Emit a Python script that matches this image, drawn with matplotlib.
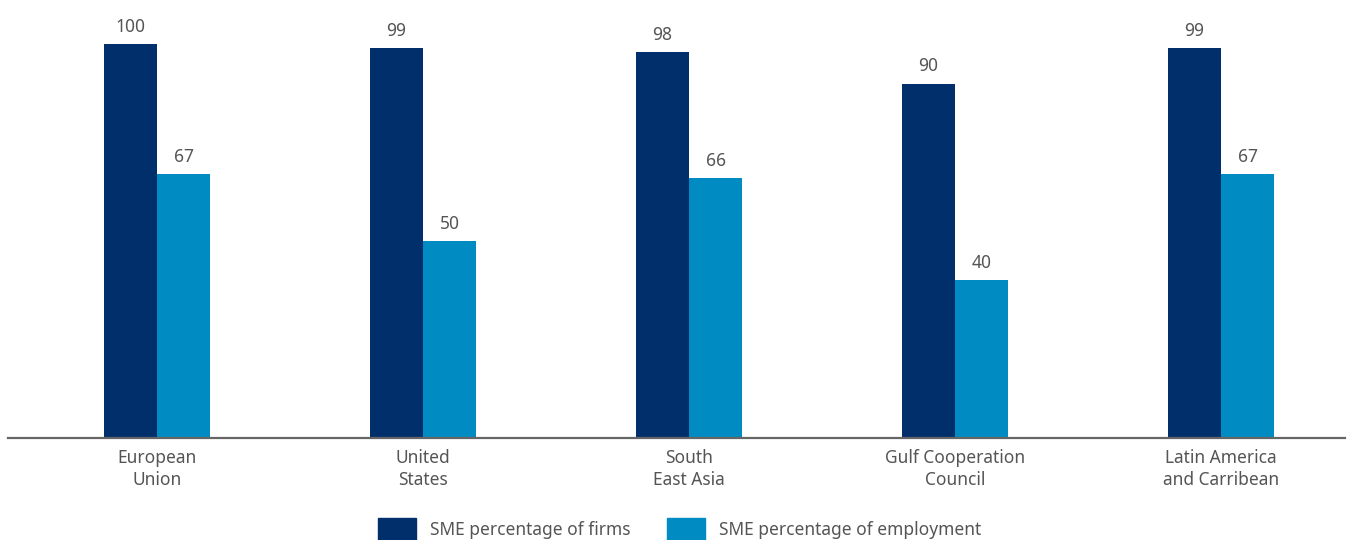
import matplotlib.pyplot as plt
import numpy as np
from matplotlib.patches import Patch

regions = ["European\nUnion", "United\nStates", "South\nEast Asia", "Gulf Cooperation\nCouncil", "Latin America\nand Carribean"]
firms = [100, 99, 98, 90, 99]
employment = [67, 50, 66, 40, 67]
series_labels = ["SME percentage of firms", "SME percentage of employment"]

dark = "#002F6C"
light = "#008CC2"
text_color = "#555555"

plt.rcParams["font.family"] = ["Noto Sans", "DejaVu Sans"]

fig = plt.figure(figsize=(13.49, 5.40), dpi=100)
ax = fig.add_axes([8 / 1349, 102 / 540, 1337 / 1349, 438 / 540])

x = np.arange(len(regions))
width = 0.2
b1 = ax.bar(x - width / 2, firms, width, color=dark)
b2 = ax.bar(x + width / 2, employment, width, color=light)

for bars in (b1, b2):
    for bar in bars:
        h = bar.get_height()
        ax.annotate(f"{h:g}", (bar.get_x() + bar.get_width() / 2, h),
                    xytext=(0, 6), textcoords="offset points",
                    ha="center", va="bottom", fontsize=12.5, color=text_color)

ax.set_xlim(-0.56, 4.466)
ax.set_ylim(0, 111.2)
ax.set_xticks(x)
ax.set_xticklabels(regions, fontsize=12.5, color=text_color, linespacing=1.25)
ax.tick_params(axis="x", length=0, pad=8)
ax.set_yticks([])
for side in ("top", "right", "left"):
    ax.spines[side].set_visible(False)
ax.spines["bottom"].set_color("#666666")
ax.spines["bottom"].set_linewidth(1.6)

handles = [Patch(color=dark), Patch(color=light)]
fig.legend(handles, series_labels, loc="upper center", bbox_to_anchor=(0.504, 0.057),
           ncol=2, frameon=False, fontsize=12.5, labelcolor=text_color, borderpad=0,
           handlelength=2.2, handleheight=1.6, columnspacing=2.1, handletextpad=0.8)

fig.savefig("out.png", dpi=100, facecolor="white")
